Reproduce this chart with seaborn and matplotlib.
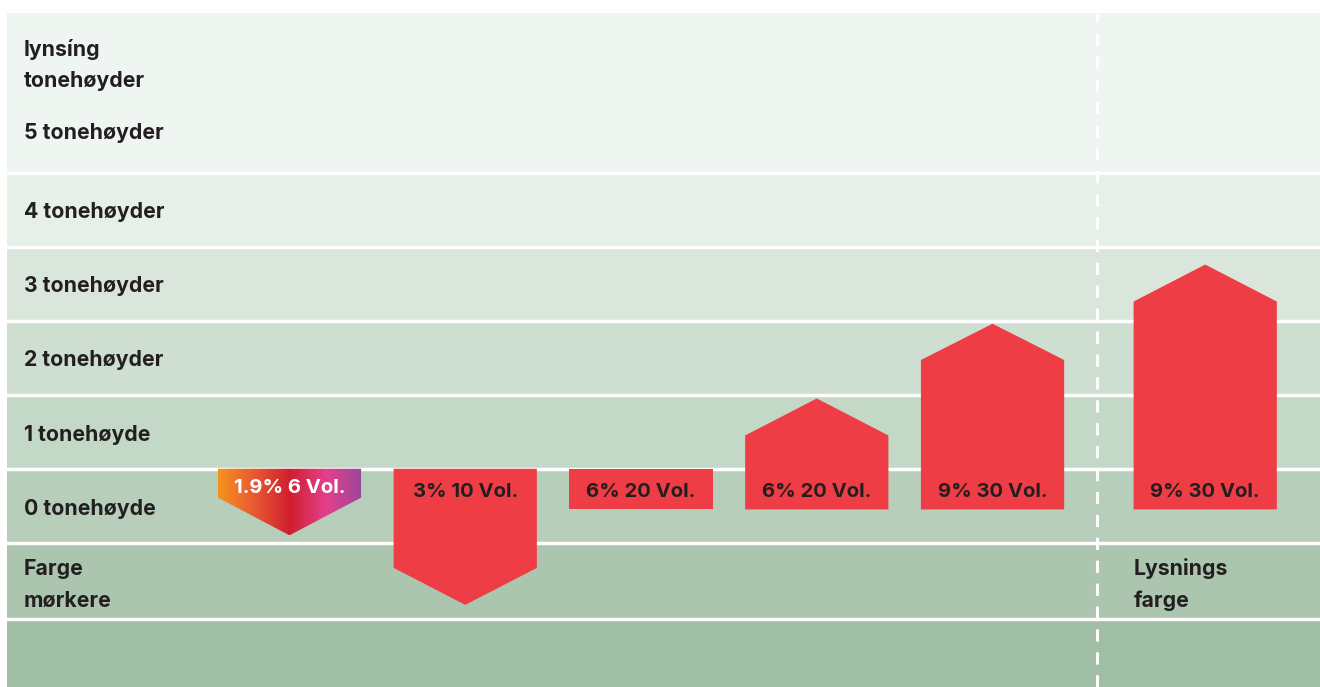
import numpy as np
import matplotlib.pyplot as plt
import seaborn as sns
from matplotlib.patches import Polygon
from matplotlib.colors import LinearSegmentedColormap

sns.set_theme(style="white")
plt.rcParams['font.family'] = ['Inter', 'DejaVu Sans']

# row bands (tone steps) and their labels
band_edges = [6.16, 4, 3, 2, 1, 0, -1, -2.03, -2.95]
band_colors = ['#eff5f0', '#e6efe8', '#dae6dc', '#cedfd1', '#c3d8c6', '#b7cebb', '#abc5af', '#9fbea3']
row_labels = ['lynsíng\ntonehøyder', '5 tonehøyder', '4 tonehøyder', '3 tonehøyder',
              '2 tonehøyder', '1 tonehøyde', '0 tonehøyde', 'Farge\nmørkere']
row_label_y = [5.46, 4.54, 3.47, 2.47, 1.47, 0.46, -0.54, -1.57]

# bars: position, rectangle low/high, arrow tip, label
bar_x = [0, 1, 2, 3, 4, 5.21]
bar_low = [-0.39, -1.34, -0.55, -0.55, -0.55, -0.55]
bar_high = [0, 0, 0, 0.45, 1.47, 2.26]
bar_tip = [-0.9, -1.84, None, 0.95, 1.96, 2.76]
bar_labels = ['1.9% 6 Vol.', '3% 10 Vol.', '6% 20 Vol.', '6% 20 Vol.', '9% 30 Vol.', '9% 30 Vol.']
bar_width = 0.815
red = '#ef3d45'
dark = '#231f20'

fig = plt.figure(figsize=(13.2, 6.87), dpi=100)
ax = fig.add_axes([7 / 1320, 0, 1313 / 1320, 674 / 687])
xmin, xmax = -1.607, 5.863
ax.set_xlim(xmin, xmax)
ax.set_ylim(-2.95, 6.16)
ax.axis('off')

for i, c in enumerate(band_colors):
    ax.axhspan(band_edges[i + 1], band_edges[i], color=c, lw=0, zorder=0)
for e in band_edges[1:-1]:
    ax.axhline(e, color='white', lw=2.5, zorder=1)

for lab, y in zip(row_labels, row_label_y):
    ax.text(-1.51, y, lab, ha='left', va='center', fontsize=15.3, fontweight='bold',
            color=dark, linespacing=1.7, zorder=5)
ax.text(5.21 - bar_width / 2, -1.57, 'Lysnings\nfarge', ha='left', va='center', fontsize=15.3,
        fontweight='bold', color=dark, linespacing=1.7, zorder=5)

ax.axvline(4.595, color='white', lw=2.2, ls=(0, (4, 3.5)), zorder=1)

grad = LinearSegmentedColormap.from_list('g', ['#f6921e', '#e85a33', '#cf1f2e', '#e4408a', '#9c479b'])

for i, x in enumerate(bar_x):
    l, r = x - bar_width / 2, x + bar_width / 2
    lo, hi, tip = bar_low[i], bar_high[i], bar_tip[i]
    if tip is None:
        pts = [(l, lo), (r, lo), (r, hi), (l, hi)]
    elif tip > hi:
        pts = [(l, lo), (r, lo), (r, hi), (x, tip), (l, hi)]
    else:
        pts = [(l, hi), (r, hi), (r, lo), (x, tip), (l, lo)]
    if i == 0:
        poly = Polygon(pts, closed=True, facecolor='none', edgecolor='none', zorder=3)
        ax.add_patch(poly)
        im = ax.imshow(np.linspace(0, 1, 256)[None, :], cmap=grad, aspect='auto',
                       extent=[l, r, tip, hi], zorder=3)
        im.set_clip_path(poly)
        ax.text(x, -0.26, bar_labels[i], ha='center', va='center', fontsize=14.6,
                fontweight='bold', color='white', zorder=6)
    else:
        ax.add_patch(Polygon(pts, closed=True, facecolor=red, edgecolor='none', zorder=3))
        ax.text(x, -0.31, bar_labels[i], ha='center', va='center', fontsize=14.6,
                fontweight='bold', color=dark, zorder=6)

ax.set_xlim(xmin, xmax)
ax.set_ylim(-2.95, 6.16)
fig.savefig('out.png', dpi=100)
